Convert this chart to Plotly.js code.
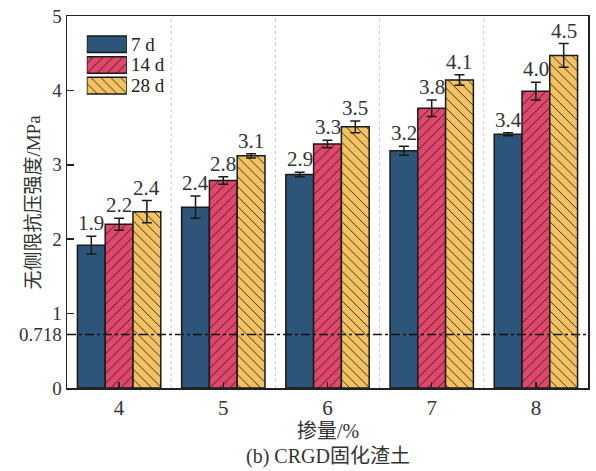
<!DOCTYPE html>
<html><head><meta charset="utf-8">
<script src="https://cdn.plot.ly/plotly-3.0.1.min.js"></script>
<style>body{margin:0;background:#fff}#c{width:596px;height:471px}</style>
</head><body><div id="c"></div>
<script>
const categories = ['4','5','6','7','8'];
const seriesNames = ['7 d','14 d','28 d'];
const v7  = [1.92, 2.43, 2.87, 3.19, 3.41];
const v14 = [2.20, 2.79, 3.28, 3.76, 3.99];
const v28 = [2.37, 3.12, 3.51, 4.14, 4.47];
const e7  = [0.12, 0.15, 0.03, 0.06, 0.02];
const e14 = [0.08, 0.05, 0.05, 0.11, 0.12];
const e28 = [0.15, 0.03, 0.08, 0.07, 0.16];
const labels7  = ['1.9','2.4','2.9','3.2','3.4'];
const labels14 = ['2.2','2.8','3.3','3.8','4.0'];
const labels28 = ['2.4','3.1','3.5','4.1','4.5'];
const refValue = 0.718;
const yTickVals = [0, 0.718, 1, 2, 3, 4, 5];
const yTickText = ['0','0.718','1','2','3','4','5'];

const colors = ['#2d5579', '#e1476b', '#f3c263'];
const patterns = ['', '/', '\\'];
const serif = '"Liberation Serif", "Times New Roman", serif';
const cjk = '"Liberation Serif", "Noto Sans CJK SC", serif';
const values = [v7, v14, v28], errs = [e7, e14, e28], labs = [labels7, labels14, labels28];

const traces = values.map((v, i) => ({
  type: 'bar', x: categories, y: v, name: seriesNames[i], showlegend: false,
  marker: {
    color: colors[i], line: {color: '#1a1a1a', width: 1.5},
    pattern: patterns[i] ? {shape: patterns[i], fgcolor: '#1a1a1a', bgcolor: colors[i], size: 7, solidity: 0.12} : undefined
  },
  error_y: {type: 'data', array: errs[i], visible: true, color: '#1a1a1a', thickness: 1.5, width: 5},
  offsetgroup: String(i)
}));

// legend swatches as a tiny horizontal bar subplot
const legendY = seriesNames.slice().reverse();
traces.push(...seriesNames.map((n, i) => ({
  type: 'bar', orientation: 'h', x: [1], y: [n], xaxis: 'x2', yaxis: 'y2', showlegend: false,
  hoverinfo: 'skip',
  marker: {
    color: colors[i], line: {color: '#1a1a1a', width: 1.5},
    pattern: patterns[i] ? {shape: patterns[i], fgcolor: '#1a1a1a', bgcolor: colors[i], size: 7, solidity: 0.12} : undefined
  }
})));

const annotations = [];
values.forEach((v, i) => {
  v.forEach((val, j) => {
    annotations.push({
      x: j, xref: 'x', y: val + errs[i][j], yref: 'y', text: labs[i][j], showarrow: false,
      xshift: (i - 1) * 27.7, yshift: -1, yanchor: 'bottom',
      font: {family: serif, size: 21, color: '#333'}
    });
  });
});
seriesNames.forEach((n, i) => {
  annotations.push({
    x: 0.121, xref: 'paper', y: n, yref: 'y2', text: n, showarrow: false, xanchor: 'left',
    borderpad: 0, font: {family: serif, size: 19, color: '#222'}
  });
});
annotations.push({x: -0.066, xref: 'paper', y: 0.5, yref: 'paper', xanchor: 'center', yanchor: 'middle',
  text: '无侧限抗压强度/MPa', textangle: -90, showarrow: false,
  font: {family: cjk, size: 19, color: '#333'}});
annotations.push({x: 0.5, xref: 'paper', y: -0.115, yref: 'paper', yanchor: 'middle', text: '掺量/%', showarrow: false,
  font: {family: cjk, size: 20, color: '#333'}});
annotations.push({x: 0.5, xref: 'paper', y: -0.183, yref: 'paper', yanchor: 'middle', text: '(b) CRGD固化渣土', showarrow: false,
  font: {family: cjk, size: 20, color: '#333'}});

const shapes = [0.5, 1.5, 2.5, 3.5].map(x => ({
  type: 'line', xref: 'x', yref: 'paper', x0: x, x1: x, y0: 0, y1: 1,
  line: {color: '#c8c8c8', width: 1, dash: '3px,3px'}, layer: 'below'
}));
shapes.push({type: 'line', xref: 'paper', yref: 'y', x0: 0, x1: 1, y0: refValue, y1: refValue,
  line: {color: '#111', width: 1.5, dash: 'dashdot'}, layer: 'above'});

const layout = {
  width: 596, height: 471,
  margin: {l: 67, r: 8, t: 16, b: 83},
  paper_bgcolor: '#fff', plot_bgcolor: '#fff',
  barmode: 'group', bargap: 0.2, bargroupgap: 0,
  showlegend: false,
  xaxis: {type: 'category', categoryorder: 'array', categoryarray: categories, range: [-0.5, 4.5],
    showline: true, mirror: true, linecolor: '#222', linewidth: 1.5,
    ticks: 'inside', ticklen: 6, tickwidth: 1.5, tickcolor: '#222', showgrid: false, zeroline: false,
    tickfont: {family: serif, size: 21, color: '#333'}},
  yaxis: {range: [0, 5], tickvals: yTickVals, ticktext: yTickText,
    showline: true, mirror: true, linecolor: '#222', linewidth: 1.5,
    ticks: 'inside', ticklen: 7, tickwidth: 1.5, tickcolor: '#222', showgrid: false, zeroline: false,
    tickfont: {family: serif, size: 19, color: '#333'}},
  xaxis2: {domain: [0.038, 0.115], range: [0, 1], anchor: 'y2', visible: false, fixedrange: true},
  yaxis2: {domain: [0.785, 0.952], anchor: 'x2', visible: false, type: 'category',
    categoryorder: 'array', categoryarray: legendY, range: [-0.5, 2.5], fixedrange: true},
  annotations: annotations, shapes: shapes
};
Plotly.newPlot('c', traces, layout, {staticPlot: true});
</script></body></html>
